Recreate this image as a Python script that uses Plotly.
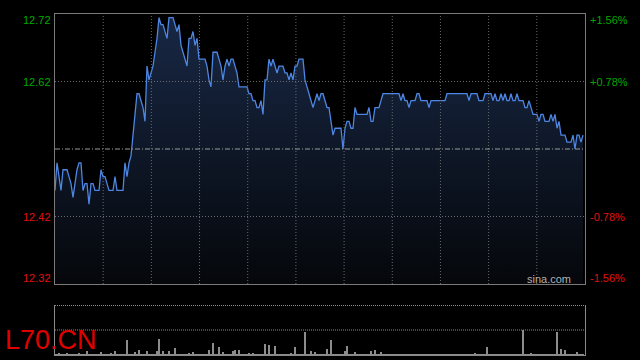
import plotly.graph_objects as go

# ---- data ----
prev_close = 12.52
pct_levels = [0.0156, 0.0078, -0.0078, -0.0156]
price_labels = ["12.72", "12.62", "12.42", "12.32"]
pct_labels = ["+1.56%", "+0.78%", "-0.78%", "-1.56%"]

prices = [
    12.46, 12.50, 12.48, 12.46, 12.49, 12.49, 12.49, 12.48, 12.47, 12.45,
    12.47, 12.49, 12.50, 12.50, 12.46, 12.47, 12.47, 12.44, 12.47, 12.47,
    12.46, 12.46, 12.46, 12.49, 12.48, 12.48, 12.47, 12.46, 12.46, 12.46,
    12.48, 12.46, 12.46, 12.46, 12.46, 12.50, 12.48, 12.50, 12.51, 12.54,
    12.57, 12.60, 12.60, 12.59, 12.58, 12.56, 12.64, 12.62, 12.63, 12.64,
    12.66, 12.68, 12.71, 12.70, 12.70, 12.69, 12.68, 12.71, 12.71, 12.71,
    12.70, 12.69, 12.70, 12.67, 12.66, 12.65, 12.64, 12.68, 12.68, 12.69,
    12.67, 12.68, 12.65, 12.65, 12.65, 12.65, 12.64, 12.62, 12.61, 12.66,
    12.66, 12.66, 12.65, 12.64, 12.62, 12.64, 12.65, 12.64, 12.65, 12.65,
    12.64, 12.63, 12.61, 12.61, 12.61, 12.61, 12.61, 12.60, 12.60, 12.59,
    12.59, 12.58, 12.58, 12.59, 12.57, 12.62, 12.62, 12.65, 12.64, 12.65,
    12.64, 12.63, 12.64, 12.64, 12.64, 12.63, 12.63, 12.62, 12.63, 12.62,
    12.64, 12.64, 12.65, 12.65, 12.65, 12.62, 12.61, 12.60, 12.59, 12.58,
    12.59, 12.60, 12.59, 12.60, 12.60, 12.59, 12.58, 12.58, 12.56, 12.54,
    12.55, 12.55, 12.55, 12.55, 12.52, 12.55, 12.56, 12.56, 12.55, 12.55,
    12.58, 12.57, 12.57, 12.57, 12.57, 12.57, 12.57, 12.58, 12.56, 12.56,
    12.58, 12.58, 12.58, 12.59, 12.60, 12.60, 12.60, 12.60, 12.60, 12.60,
    12.60, 12.60, 12.60, 12.59, 12.60, 12.59, 12.59, 12.58, 12.59, 12.59,
    12.59, 12.60, 12.60, 12.59, 12.59, 12.59, 12.59, 12.58, 12.59, 12.59,
    12.59, 12.59, 12.59, 12.59, 12.59, 12.59, 12.60, 12.60, 12.60, 12.60,
    12.60, 12.60, 12.60, 12.60, 12.60, 12.60, 12.60, 12.59, 12.60, 12.60,
    12.60, 12.60, 12.59, 12.59, 12.59, 12.60, 12.60, 12.60, 12.60, 12.59,
    12.60, 12.59, 12.59, 12.60, 12.59, 12.60, 12.59, 12.59, 12.60, 12.59,
    12.59, 12.60, 12.59, 12.59, 12.59, 12.58, 12.58, 12.59, 12.58, 12.57,
    12.57, 12.57, 12.56, 12.57, 12.57, 12.56, 12.56, 12.56, 12.57, 12.56,
    12.57, 12.55, 12.56, 12.54, 12.54, 12.54, 12.53, 12.53, 12.53, 12.54,
    12.52, 12.54, 12.54, 12.53, 12.54,
]

volumes = [
    1, 1, 2, 1, 1, 1, 2, 1, 1, 1, 1, 1, 2, 1, 1, 1, 4, 1, 1, 1,
    1, 1, 1, 3, 1, 1, 1, 1, 2, 1, 4, 1, 1, 1, 1, 1, 15, 1, 1, 1,
    3, 1, 5, 1, 1, 1, 4, 1, 1, 1, 1, 4, 16, 1, 4, 1, 1, 4, 1, 1,
    7, 1, 1, 1, 1, 1, 1, 2, 1, 3, 1, 1, 1, 1, 1, 1, 1, 5, 1, 12,
    1, 1, 8, 1, 3, 1, 1, 1, 1, 4, 5, 1, 5, 1, 1, 1, 1, 2, 1, 2,
    1, 1, 1, 1, 1, 11, 1, 10, 1, 1, 9, 1, 1, 1, 1, 1, 1, 1, 2, 1,
    8, 1, 1, 1, 1, 23, 1, 1, 4, 1, 3, 1, 1, 1, 1, 1, 6, 1, 15, 1,
    1, 1, 1, 1, 1, 4, 9, 1, 1, 1, 3, 1, 1, 1, 1, 1, 1, 1, 4, 1,
    5, 1, 1, 3, 1, 1, 1, 1, 1, 1, 1, 1, 1, 1, 1, 1, 1, 1, 1, 1,
    1, 1, 1, 1, 1, 1, 1, 1, 1, 1, 1, 1, 1, 1, 1, 1, 1, 1, 1, 1,
    1, 1, 1, 1, 1, 1, 1, 1, 1, 1, 2, 1, 1, 1, 1, 1, 8, 1, 1, 1,
    1, 1, 1, 1, 1, 1, 1, 1, 1, 1, 1, 1, 1, 1, 25, 1, 1, 1, 2, 1,
    1, 1, 1, 1, 1, 1, 1, 1, 1, 1, 1, 23, 1, 6, 1, 5, 1, 1, 1, 1,
    1, 3, 1, 1, 1,
]

n_slots = 265          # time slots across the session
n_vgrid = 11           # vertical grid intervals
vol_max = 50

idx = list(range(len(prices)))
ymax = prev_close * (1 + pct_levels[0])
ymin = prev_close * (1 + pct_levels[-1])

GREEN = "#00a800"
RED = "#e01010"
FONT = "Liberation Sans, Arial, sans-serif"

fig = go.Figure()
fig.add_trace(go.Scatter(
    x=idx, y=prices, mode="lines",
    line=dict(color="#4d86e3", width=1.3),
    fill="tozeroy",
    fillgradient=dict(type="vertical",
                      colorscale=[[0, "#05070b"], [1, "#182845"]],
                      start=ymin, stop=ymax),
    xaxis="x", yaxis="y", hoverinfo="skip",
))
fig.add_trace(go.Bar(
    x=idx, y=volumes, marker=dict(color="#8c8c8c", line=dict(width=0)),
    width=0.5, xaxis="x2", yaxis="y2", hoverinfo="skip",
))

shapes = []
grid_color = "#6a6a6a"
for k in range(1, n_vgrid):
    shapes.append(dict(type="line", xref="x", yref="y",
                       x0=n_slots * k / n_vgrid, x1=n_slots * k / n_vgrid,
                       y0=ymin, y1=ymax, layer="above",
                       line=dict(color=grid_color, width=1, dash="1px,2px")))
for p in pct_levels[1:3]:
    yv = prev_close * (1 + p)
    shapes.append(dict(type="line", xref="paper", yref="y",
                       x0=0, x1=1, y0=yv, y1=yv, layer="above",
                       line=dict(color=grid_color, width=1, dash="1px,2px")))
shapes.append(dict(type="line", xref="paper", yref="y",
                   x0=0, x1=1, y0=prev_close, y1=prev_close, layer="above",
                   line=dict(color="#9a9a9a", width=1, dash="5px,2px,1px,2px")))
for v in (vol_max - 0.5, vol_max / 2):
    shapes.append(dict(type="line", xref="paper", yref="y2",
                       x0=0, x1=1, y0=v, y1=v, layer="above",
                       line=dict(color="#8a8a8a", width=1, dash="1px,1px")))

annotations = []
label_shift = [-6, 0, 0, 6]
for p, lab, pl, sh in zip(pct_levels, price_labels, pct_labels, label_shift):
    yv = prev_close * (1 + p)
    col = GREEN if p > 0 else RED
    annotations.append(dict(xref="paper", yref="y", x=0, y=yv, text=lab,
                            xanchor="right", yanchor="middle", xshift=-2, yshift=sh,
                            showarrow=False, font=dict(color=col, size=11, family=FONT)))
    annotations.append(dict(xref="paper", yref="y", x=1, y=yv, text=pl,
                            xanchor="left", yanchor="middle", xshift=3, yshift=sh,
                            showarrow=False, font=dict(color=col, size=11, family=FONT)))
annotations.append(dict(xref="paper", yref="paper", x=0.977, y=0.222, text="sina.com",
                        xanchor="right", yanchor="middle", showarrow=False,
                        font=dict(color="#b0b0b0", size=11, family=FONT)))
annotations.append(dict(xref="paper", yref="paper", x=0, y=0.044, text="L70.CN",
                        xanchor="left", yanchor="middle", xshift=-52, showarrow=False,
                        font=dict(color="#e00000", size=27, family=FONT)))

axis_common = dict(showticklabels=False, showgrid=False, zeroline=False, ticks="")
fig.update_layout(
    width=640, height=360,
    margin=dict(l=55, r=55, t=14, b=5),
    paper_bgcolor="black", plot_bgcolor="black",
    showlegend=False, bargap=0,
    xaxis=dict(domain=[0, 1], range=[0, n_slots], anchor="y",
               showline=True, mirror=True, linecolor="#7a7a7a", linewidth=1, **axis_common),
    yaxis=dict(domain=[71 / 341, 1], range=[ymin, ymax], anchor="x",
               showline=True, mirror=True, linecolor="#7a7a7a", linewidth=1, **axis_common),
    xaxis2=dict(domain=[0, 1], range=[0, n_slots], anchor="y2",
                showline=True, mirror=False, linecolor="#8a8a8a", linewidth=1, **axis_common),
    yaxis2=dict(domain=[0, 50 / 341], range=[0, vol_max], anchor="x2",
                showline=True, mirror=True, linecolor="#8a8a8a", linewidth=1, **axis_common),
    shapes=shapes, annotations=annotations,
)

fig.write_html(
    "out.html",
    config={"displayModeBar": False},
    post_script="document.body.style.margin='0px';document.body.style.background='black';",
)
